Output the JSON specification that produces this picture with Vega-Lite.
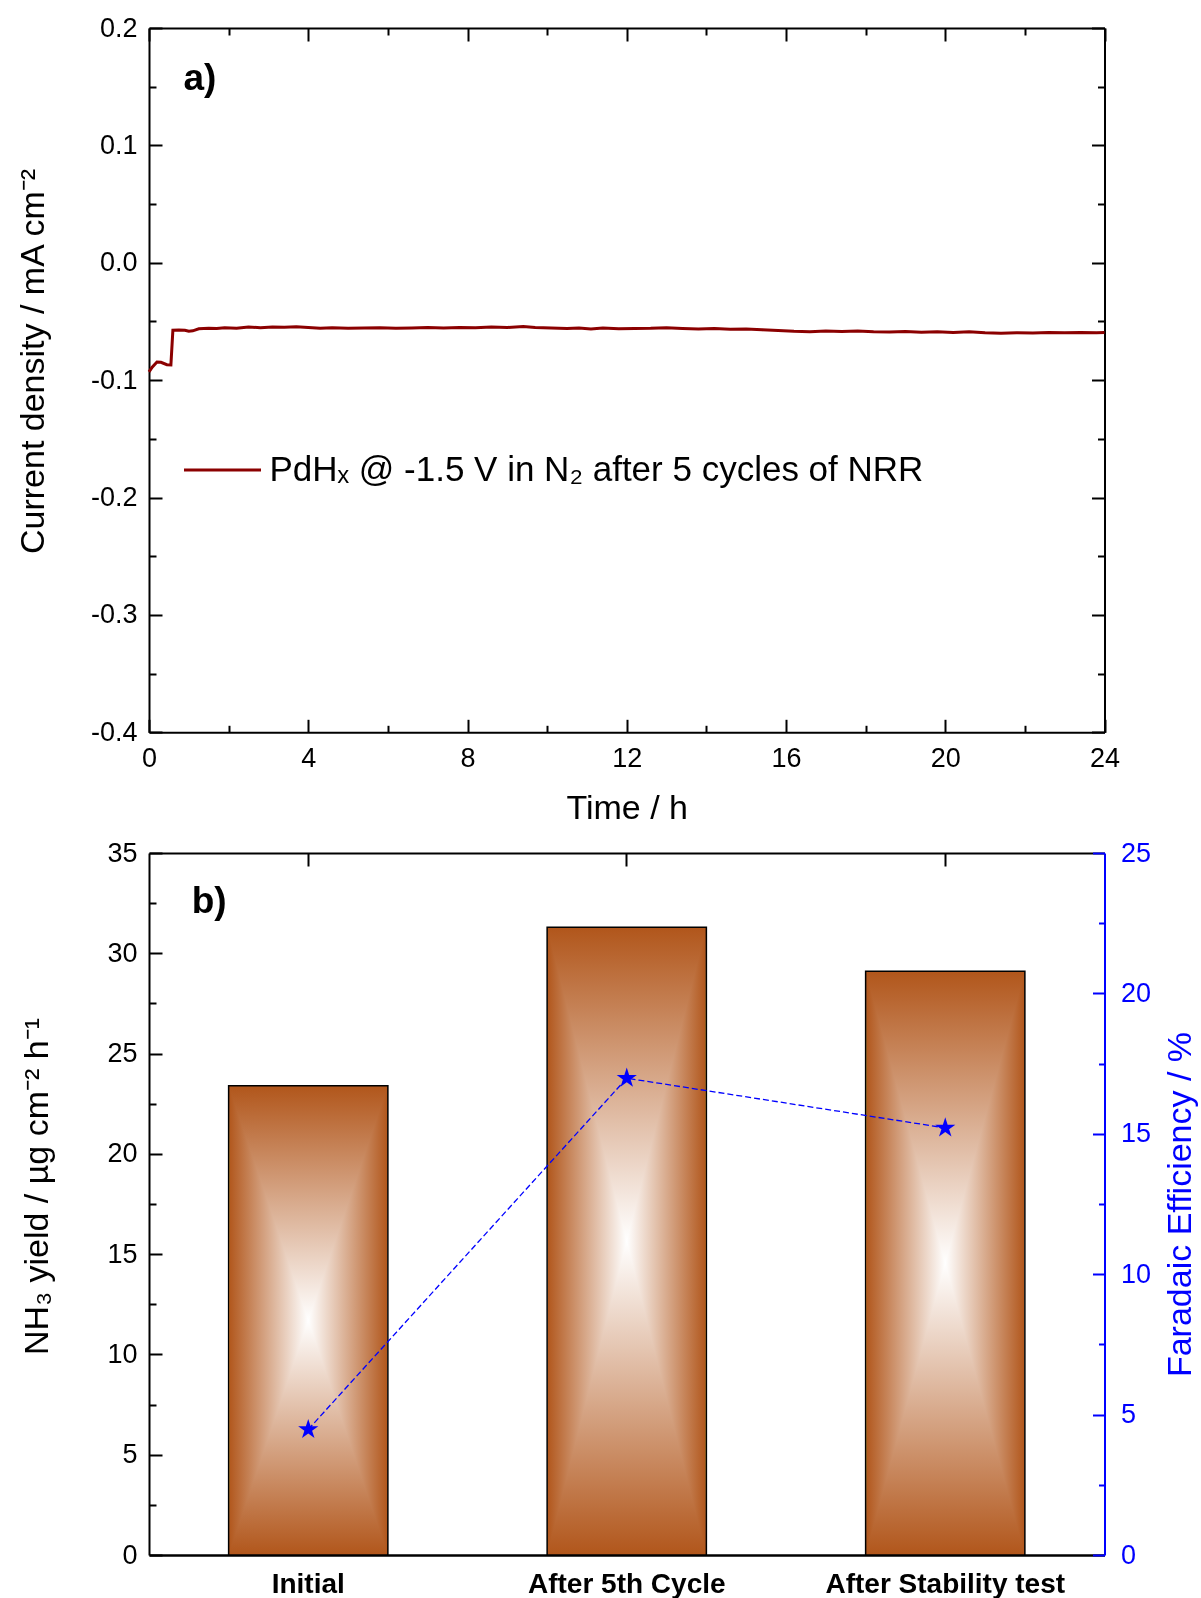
{
  "$schema": "https://vega.github.io/schema/vega-lite/v6.json",
  "background": "white",
  "padding": {"left": 16, "top": 14, "right": 5, "bottom": 5},
  "config": {
    "font": "Liberation Sans",
    "view": {"stroke": null},
    "axis": {
      "labelFont": "Liberation Sans", "titleFont": "Liberation Sans",
      "labelColor": "black", "titleColor": "black", "tickColor": "black", "domainColor": "black",
      "grid": false, "labelFontSize": 27, "titleFontSize": 34, "titleFontWeight": "normal",
      "tickWidth": 2, "domainWidth": 2, "labelOverlap": false, "labelFlush": false, "zindex": 1, "labelLimit": 0
    }
  },
  "datasets": {
    "current": [
      {"time": 0, "current": -0.093}, {"time": 0.08, "current": -0.089}, {"time": 0.2, "current": -0.0845},
      {"time": 0.3, "current": -0.0848}, {"time": 0.45, "current": -0.0868}, {"time": 0.55, "current": -0.087},
      {"time": 0.6, "current": -0.0575}, {"time": 0.75, "current": -0.0572}, {"time": 0.9, "current": -0.0575},
      {"time": 1.0, "current": -0.0583}, {"time": 1.1, "current": -0.058}, {"time": 1.25, "current": -0.0562},
      {"time": 1.5, "current": -0.0558}, {"time": 1.7, "current": -0.056}, {"time": 1.9, "current": -0.0553},
      {"time": 2.2, "current": -0.0557}, {"time": 2.5, "current": -0.0548}, {"time": 2.8, "current": -0.0553},
      {"time": 3.1, "current": -0.0547}, {"time": 3.4, "current": -0.055}, {"time": 3.7, "current": -0.0546},
      {"time": 4.0, "current": -0.0552}, {"time": 4.3, "current": -0.0557}, {"time": 4.6, "current": -0.0553},
      {"time": 5.0, "current": -0.0558}, {"time": 5.4, "current": -0.0555}, {"time": 5.8, "current": -0.0553},
      {"time": 6.2, "current": -0.0557}, {"time": 6.6, "current": -0.0555}, {"time": 7.0, "current": -0.0552},
      {"time": 7.4, "current": -0.0556}, {"time": 7.8, "current": -0.0551}, {"time": 8.2, "current": -0.0553},
      {"time": 8.6, "current": -0.0547}, {"time": 9.0, "current": -0.0551}, {"time": 9.4, "current": -0.0544},
      {"time": 9.7, "current": -0.0552}, {"time": 10.1, "current": -0.0555}, {"time": 10.5, "current": -0.0559},
      {"time": 10.8, "current": -0.0555}, {"time": 11.1, "current": -0.0564}, {"time": 11.4, "current": -0.0556},
      {"time": 11.8, "current": -0.0562}, {"time": 12.2, "current": -0.0559}, {"time": 12.6, "current": -0.0558},
      {"time": 13.0, "current": -0.0554}, {"time": 13.4, "current": -0.0559}, {"time": 13.8, "current": -0.0564},
      {"time": 14.2, "current": -0.0561}, {"time": 14.6, "current": -0.0567}, {"time": 15.0, "current": -0.0565},
      {"time": 15.4, "current": -0.0571}, {"time": 15.8, "current": -0.0577}, {"time": 16.2, "current": -0.0584},
      {"time": 16.6, "current": -0.0587}, {"time": 17.0, "current": -0.0582}, {"time": 17.4, "current": -0.0585},
      {"time": 17.8, "current": -0.0581}, {"time": 18.2, "current": -0.0587}, {"time": 18.6, "current": -0.059},
      {"time": 19.0, "current": -0.0585}, {"time": 19.4, "current": -0.0592}, {"time": 19.8, "current": -0.0588},
      {"time": 20.2, "current": -0.0593}, {"time": 20.6, "current": -0.0587}, {"time": 21.0, "current": -0.0596},
      {"time": 21.4, "current": -0.06}, {"time": 21.8, "current": -0.0596}, {"time": 22.2, "current": -0.0599},
      {"time": 22.6, "current": -0.0594}, {"time": 23.0, "current": -0.0597}, {"time": 23.4, "current": -0.0595},
      {"time": 23.8, "current": -0.0596}, {"time": 24.0, "current": -0.0595}
    ],
    "nh3": [
      {"stage": "Initial", "yield": 23.4, "fe": 4.47},
      {"stage": "After 5th Cycle", "yield": 31.3, "fe": 16.98},
      {"stage": "After Stability test", "yield": 29.1, "fe": 15.21}
    ]
  },
  "bounds": "flush",
  "spacing": 120,
  "resolve": {"scale": {"color": "independent"}, "legend": {"color": "independent"}},
  "vconcat": [
    {
      "width": 955.5,
      "height": 704.3,
      "layer": [
        {
          "data": {"name": "current"},
          "mark": {"type": "line", "strokeWidth": 3},
          "encoding": {
            "x": {
              "field": "time", "type": "quantitative",
              "scale": {"domain": [0, 24], "nice": false, "zero": false},
              "axis": {
                "orient": "bottom",
                "values": [0, 2, 4, 6, 8, 10, 12, 14, 16, 18, 20, 22, 24],
                "labelExpr": "datum.value % 4 === 0 ? datum.label : ''",
                "tickSize": {"condition": {"test": "datum.value % 4 === 0", "value": -13}, "value": -7},
                "labelPadding": 26,
                "title": "Time / h",
                "titlePadding": 14
              }
            },
            "y": {
              "field": "current", "type": "quantitative",
              "scale": {"domain": [-0.4, 0.2], "nice": false, "zero": false},
              "axis": {
                "orient": "left",
                "values": [-0.4, -0.35, -0.3, -0.25, -0.2, -0.15, -0.1, -0.05, 0, 0.05, 0.1, 0.15, 0.2],
                "labelExpr": "abs(datum.value*10 - round(datum.value*10)) < 0.000001 ? replace(format(datum.value, '.1f'), '−', '-') : ''",
                "tickSize": {"condition": {"test": "abs(datum.value*10 - round(datum.value*10)) < 0.000001", "value": -13}, "value": -7},
                "labelPadding": 25,
                "title": "Current density / mA cm⁻²",
                "titlePadding": 40,
                "titleY": 333
              }
            },
            "color": {
              "datum": "PdHₓ @ -1.5 V in N₂ after 5 cycles of NRR",
              "type": "nominal",
              "scale": {"range": ["#8B0000"]},
              "legend": {
                "orient": "none", "legendX": 33.5, "legendY": 402, "title": null,
                "symbolType": "stroke", "symbolSize": 5929, "symbolStrokeWidth": 3,
                "labelFontSize": 35, "labelFont": "Liberation Sans", "labelColor": "black",
                "labelLimit": 0, "labelOffset": 7, "padding": 0
              }
            }
          }
        },
        {
          "data": {"values": [{"label": "a)"}]},
          "mark": {"type": "text", "fontSize": 37, "fontWeight": "bold", "align": "left", "baseline": "alphabetic", "color": "black"},
          "encoding": {
            "text": {"field": "label"},
            "x": {
              "datum": 0.867, "type": "quantitative",
              "scale": {"domain": [0, 24], "nice": false, "zero": false},
              "axis": {
                "orient": "top", "labels": false, "title": null,
                "values": [0, 2, 4, 6, 8, 10, 12, 14, 16, 18, 20, 22, 24],
                "tickSize": {"condition": {"test": "datum.value % 4 === 0", "value": -13}, "value": -7}
              }
            },
            "y": {
              "datum": 0.1473, "type": "quantitative",
              "scale": {"domain": [-0.4, 0.2], "nice": false, "zero": false},
              "axis": {
                "orient": "right", "labels": false, "title": null,
                "values": [-0.4, -0.35, -0.3, -0.25, -0.2, -0.15, -0.1, -0.05, 0, 0.05, 0.1, 0.15, 0.2],
                "tickSize": {"condition": {"test": "abs(datum.value*10 - round(datum.value*10)) < 0.000001", "value": -13}, "value": -7}
              }
            }
          }
        }
      ],
      "resolve": {"axis": {"x": "independent", "y": "independent"}}
    },
    {
      "width": 955.5,
      "height": 702,
      "data": {"name": "nh3"},
      "layer": [
        {
          "layer": [
            {
              "mark": {
                "type": "bar",
                "fill": {"gradient": "linear", "x1": 0, "y1": 0, "x2": 1, "y2": 0,
                  "stops": [{"offset": 0, "color": "#B1561B"}, {"offset": 0.5, "color": "#FFFFFF"}, {"offset": 1, "color": "#B1561B"}]}
              },
              "encoding": {
                "x": {"field": "stage", "type": "nominal", "sort": null,
                  "scale": {"paddingInner": 0.5, "paddingOuter": 0.25},
                  "axis": {"orient": "bottom", "title": null, "labelFontWeight": "bold", "labelFontSize": 28, "labelAngle": 0,
                    "tickSize": -13, "labelPadding": 28, "domainWidth": 2.5, "labelLimit": 0}},
                "y": {"field": "yield", "type": "quantitative",
                  "scale": {"domain": [0, 35], "nice": false},
                  "axis": {
                    "orient": "left",
                    "values": [0, 2.5, 5, 7.5, 10, 12.5, 15, 17.5, 20, 22.5, 25, 27.5, 30, 32.5, 35],
                    "labelExpr": "datum.value % 5 === 0 ? datum.label : ''",
                    "tickSize": {"condition": {"test": "datum.value % 5 === 0", "value": -13}, "value": -7},
                    "labelPadding": 25,
                    "title": "NH₃ yield / µg cm⁻² h⁻¹",
                    "titlePadding": 52,
                    "titleY": 333
                  }}
              }
            },
            {
              "mark": {
                "type": "bar", "blend": "darken", "stroke": "black", "strokeWidth": 1.5,
                "fill": {"gradient": "linear", "x1": 0, "y1": 0, "x2": 0, "y2": 1,
                  "stops": [{"offset": 0, "color": "#B1561B"}, {"offset": 0.5, "color": "#FFFFFF"}, {"offset": 1, "color": "#B1561B"}]}
              },
              "encoding": {
                "x": {"field": "stage", "type": "nominal", "sort": null},
                "y": {"field": "yield", "type": "quantitative"}
              }
            },
            {
              "data": {"values": [{"label": "b)"}]},
              "mark": {"type": "text", "fontSize": 37, "fontWeight": "bold", "align": "left", "baseline": "alphabetic", "color": "black", "dx": -37},
              "encoding": {
                "text": {"field": "label"},
                "x": {"datum": "Initial", "type": "nominal", "bandPosition": 0},
                "y": {"datum": 32.0, "type": "quantitative"}
              }
            }
          ]
        },
        {
          "layer": [
            {
              "mark": {"type": "line", "color": "#0000FF", "strokeDash": [6, 3], "strokeWidth": 1.3},
              "encoding": {
                "x": {"field": "stage", "type": "nominal", "sort": null,
                  "axis": {"orient": "top", "labels": false, "title": null, "tickSize": -13}},
                "y": {"field": "fe", "type": "quantitative",
                  "scale": {"domain": [0, 25], "nice": false},
                  "axis": {
                    "orient": "right",
                    "values": [0, 2.5, 5, 7.5, 10, 12.5, 15, 17.5, 20, 22.5, 25],
                    "labelExpr": "datum.value % 5 === 0 ? datum.label : ''",
                    "tickSize": {"condition": {"test": "datum.value % 5 === 0", "value": -12}, "value": -6},
                    "labelPadding": 28,
                    "domainColor": "#0000FF", "tickColor": "#0000FF", "labelColor": "#0000FF", "titleColor": "#0000FF",
                    "title": "Faradaic Efficiency / %",
                    "titleAngle": 270, "titleBaseline": "top",
                    "titlePadding": 13
                  }}
              }
            },
            {
              "mark": {"type": "point", "filled": true, "color": "#0000FF", "opacity": 1, "size": 450,
                "shape": "M0,-1L0.2245,-0.309L0.951,-0.309L0.3633,0.118L0.588,0.809L0,0.382L-0.588,0.809L-0.3633,0.118L-0.951,-0.309L-0.2245,-0.309Z"},
              "encoding": {
                "x": {"field": "stage", "type": "nominal", "sort": null},
                "y": {"field": "fe", "type": "quantitative"}
              }
            }
          ]
        }
      ],
      "resolve": {"scale": {"y": "independent"}, "axis": {"x": "independent", "y": "independent"}}
    }
  ]
}
